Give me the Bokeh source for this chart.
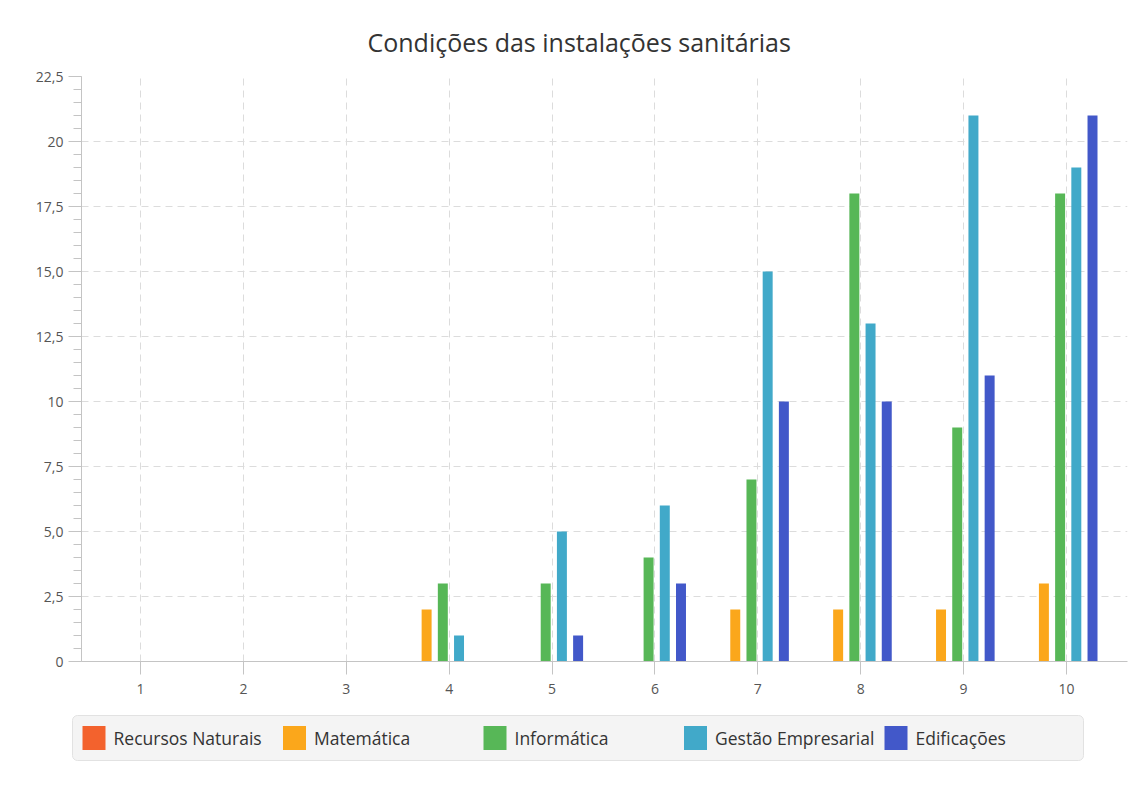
from bokeh.plotting import figure
from bokeh.models import FixedTicker, Range1d, ColumnDataSource, BoxAnnotation
from bokeh.layouts import column
from bokeh.transform import dodge
from bokeh.embed import file_html
from bokeh.resources import INLINE
from bokeh.core.properties import value

# ---------------- data ----------------
title_text = "Condições das instalações sanitárias"
categories = ["1", "2", "3", "4", "5", "6", "7", "8", "9", "10"]
series_names = ["Recursos Naturais", "Matemática", "Informática",
                "Gestão Empresarial", "Edificações"]
series_colors = ["#f3622d", "#fba71b", "#57b757", "#41a9c9", "#4258c9"]
recursos_naturais = [0, 0, 0, 0, 0, 0, 0, 0, 0, 0]
matematica = [0, 0, 0, 2, 0, 0, 2, 2, 2, 3]
informatica = [0, 0, 0, 3, 3, 4, 7, 18, 9, 18]
gestao_empresarial = [0, 0, 0, 1, 5, 6, 15, 13, 21, 19]
edificacoes = [0, 0, 0, 0, 1, 3, 10, 10, 11, 21]
y_tick_values = [0, 2.5, 5, 7.5, 10, 12.5, 15, 17.5, 20, 22.5]
y_tick_labels = ["0", "2,5", "5,0", "7,5", "10", "12,5", "15,0", "17,5", "20", "22,5"]

# ---------------- styling ----------------
FONT = "Open Sans"
GRID = "#dcdcdc"
AXIS = "#c4c4c4"
TICK_TXT = "#555555"
W = 1134
H_MAIN = 705
H_LEG = 80

positions = list(range(1, len(categories) + 1))
source = ColumnDataSource(dict(
    x=positions,
    s0=recursos_naturais, s1=matematica, s2=informatica,
    s3=gestao_empresarial, s4=edificacoes,
))

p = figure(width=W, height=H_MAIN,
           x_range=Range1d(0.426, 10.593), y_range=Range1d(0, 22.5),
           toolbar_location=None, output_backend="svg",
           min_border_left=81, min_border_right=7,
           min_border_top=76, min_border_bottom=44,
           outline_line_color=None, title=title_text)
p.background_fill_color = "white"
p.border_fill_color = "white"

p.title.align = "left"
p.title.offset = 286
p.title.standoff = 36
p.title.text_font = FONT
p.title.text_font_size = "25px"
p.title.text_font_style = "normal"
p.title.text_color = "#333333"

bar_w = 0.097
step = 0.1575
center = -0.062
keys = ["s0", "s1", "s2", "s3", "s4"]
for i, (k, col) in enumerate(zip(keys, series_colors)):
    off = center + (i - 2) * step
    p.vbar(x=dodge("x", off, range=p.x_range), top=k, bottom=0, width=bar_w,
           source=source, fill_color=col, line_color=None)

# x axis
p.xaxis.ticker = FixedTicker(ticks=positions)
p.xaxis.major_label_overrides = {x: c for x, c in zip(positions, categories)}
p.xaxis.minor_tick_line_color = None
p.xaxis.major_tick_out = 13
p.xaxis.major_tick_in = 0
p.xaxis.axis_line_color = AXIS
p.xaxis.major_tick_line_color = AXIS
p.xaxis.major_label_standoff = 9
p.xaxis.major_label_text_font = FONT
p.xaxis.major_label_text_font_size = "14px"
p.xaxis.major_label_text_color = TICK_TXT

# y axis
minor = [i * 0.5 for i in range(46)]
p.yaxis.ticker = FixedTicker(ticks=y_tick_values, minor_ticks=minor)
p.yaxis.major_label_overrides = dict(zip(y_tick_values, y_tick_labels))
p.yaxis.major_tick_out = 13
p.yaxis.major_tick_in = 0
p.yaxis.minor_tick_out = 8
p.yaxis.minor_tick_in = 0
p.yaxis.axis_line_color = AXIS
p.yaxis.major_tick_line_color = AXIS
p.yaxis.minor_tick_line_color = AXIS
p.yaxis.major_label_standoff = 5
p.yaxis.major_label_text_font = FONT
p.yaxis.major_label_text_font_size = "14px"
p.yaxis.major_label_text_color = TICK_TXT

# grids
p.xgrid.ticker = FixedTicker(ticks=positions)
p.ygrid.ticker = FixedTicker(ticks=y_tick_values[1:-1])
for g in (p.xgrid, p.ygrid):
    g.grid_line_color = GRID
    g.grid_line_dash = "7 5"
    g.grid_line_width = 1

# ---------------- legend (equal-width tiles, own canvas below) ----------------
lg = figure(width=W, height=H_LEG,
            x_range=Range1d(0, W), y_range=Range1d(H_MAIN + H_LEG, H_MAIN),
            toolbar_location=None, output_backend="svg", min_border=0,
            x_axis_location=None, y_axis_location=None, outline_line_color=None)
lg.grid.visible = False
lg.background_fill_color = "white"
lg.border_fill_color = "white"
for fig in (p, lg):
    if "frame_align" in fig.properties():
        fig.frame_align = False

lg.add_layout(BoxAnnotation(left=72, right=1083, top=715, bottom=760,
                            fill_color="#f4f4f4", fill_alpha=1,
                            line_color="#e2e2e2", line_alpha=1, line_width=1,
                            border_radius=5, level="underlay"))
tile_w = 200.5
n = len(series_names)
lg_src = ColumnDataSource(dict(
    sx=[93.5 + i * tile_w for i in range(n)],
    tx=[113 + i * tile_w for i in range(n)],
    y=[737.5] * n,
    name=series_names, color=series_colors))
lg.rect(x="sx", y="y", width=23, height=24, source=lg_src,
        fill_color="color", line_color=None)
lg.text(x="tx", y="y", text="name", source=lg_src, text_baseline="middle",
        text_align="left", text_font=value(FONT), text_font_size="17.5px",
        text_color="#333333")

layout = column(p, lg, spacing=0)
open("out.html", "w").write(file_html(layout, INLINE))
